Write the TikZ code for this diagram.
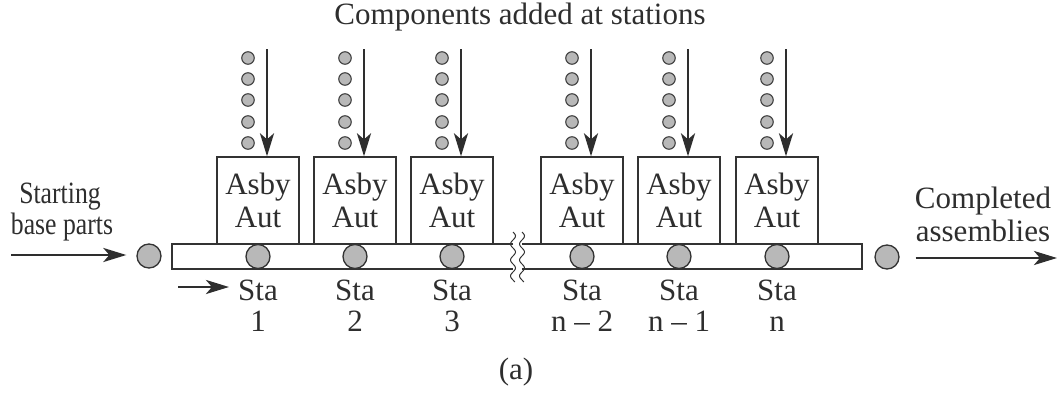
\documentclass[tikz,border=0pt]{standalone}
\usepackage{fontspec}
\setmainfont{Liberation Serif}
\usetikzlibrary{arrows.meta}
\begin{document}
\begin{tikzpicture}[x=1pt,y=-1pt,
  ink/.style={draw=black!80, line width=1.3pt},
  txt/.style={text=black!82, font=\fontsize{31}{33}\selectfont, inner sep=0pt},
  stbox/.style={ink, txt, rectangle, align=center, minimum width=82pt, minimum height=87pt},
  roller/.style={ink, circle, fill=black!28, minimum size=24pt, inner sep=0pt},
  partdot/.style={draw=black!75, line width=1.1pt, circle, fill=black!28, minimum size=12.5pt, inner sep=0pt},
  flow/.style={draw=black!82, line width=2.8pt, -{Stealth[length=23pt, width=14pt, inset=6pt]}},
  lbl/.style={txt, anchor=base}
]
\useasboundingbox (0,0) rectangle (1060,399);

% title
\node[lbl] (title) at (520,24) {Components added at stations};

% conveyor (two halves with a break)
\draw[ink] (513,244) -- (172,244) -- (172,269) -- (513,269);
\draw[ink] (522,244) -- (862,244) -- (862,269) -- (522,269);
\draw[ink, line width=1pt] plot[smooth, domain=0:50, samples=41] ({513+2.5*sin(\x*22.5)},{232+\x});
\draw[ink, line width=1pt] plot[smooth, domain=0:50, samples=41] ({522+2.5*sin(\x*22.5)},{232+\x});

% stations
\foreach \L/\i/\n in {217/1/1, 314/2/2, 411/3/3, 541/4/{n -- 2}, 638/5/{n -- 1}, 736/6/n}{
  \node[stbox] (b\i) at ({\L+41},200.5) {Asby\\Aut};
  \node[roller] (r\i) at ({\L+41},256.5) {};
  \foreach \dy/\j in {99/1,78/2,57/3,35/4,14/5}
    \node[partdot] (d\i-\j) at ({\L+31},{157-\dy}) {};
  \coordinate (t\i) at ({\L+50},49);
  \draw[flow] (t\i) -- (t\i |- b\i.north);
  \node[lbl] (s\i) at ({\L+41},300) {Sta};
  \node[lbl] (n\i) at ({\L+41},331) {\n};
}

% incoming base parts
\node[roller] (lc) at (149,256) {};
\coordinate (inS) at (11,255);
\draw[flow] (inS) -- ([xshift=-10pt]lc.west |- inS);
\node[lbl, xscale=0.83, transform shape] (st1) at (60,203) {Starting};
\node[lbl, xscale=0.83, transform shape] (st2) at (62,234) {base parts};

% flow direction arrow
\coordinate (sa) at (178,287);
\draw[flow] (sa) -- ([xshift=-9pt]s1.west |- sa);

% completed assemblies
\node[roller] (rc) at (887,257) {};
\coordinate (outE) at (1057,258);
\draw[flow] ([xshift=16pt]rc.east |- outE) -- (outE);
\node[lbl] (c1) at (983,208) {Completed};
\node[lbl] (c2) at (983,241) {assemblies};

% caption
\node[lbl] (cap) at (516,379) {(a)};
\end{tikzpicture}
\end{document}
